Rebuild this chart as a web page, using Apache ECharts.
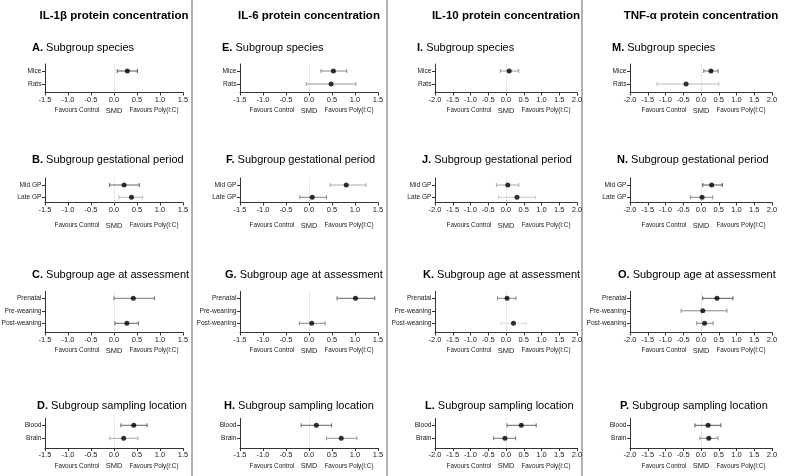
<!DOCTYPE html>
<html><head><meta charset="utf-8">
<script src="https://cdn.jsdelivr.net/npm/echarts@6/dist/echarts.min.js"></script>
<style>html,body{margin:0;padding:0;background:#fff}#c{width:789px;height:476px}</style>
</head><body><div id="c"></div>
<script>
// ---------- DATA ----------
const headers = ['IL-1β protein concentration', 'IL-6 protein concentration', 'IL-10 protein concentration', 'TNF-α protein concentration'];
const letters = ['A','B','C','D','E','F','G','H','I','J','K','L','M','N','O','P'];
const subgroupTitles = ['Subgroup species', 'Subgroup gestational period', 'Subgroup age at assessment', 'Subgroup sampling location'];
const catsSpecies = ['Mice', 'Rats'];
const catsGP = ['Mid GP', 'Late GP'];
const catsAge = ['Prenatal', 'Pre-weaning', 'Post-weaning'];
const catsLoc = ['Blood', 'Brain'];
const xLabelLeft = 'Favours Control';
const xLabelMid = 'SMD';
const xLabelRight = 'Favours Poly(I:C)';
const xRange15 = [-1.5, 1.5];
const xRange20 = [-2.0, 2.0];
const xTickStep = 0.5;

// IL-1β
const A_mean = [0.29, null], A_lo = [0.07, null], A_hi = [0.51, null];
const B_mean = [0.22, 0.38], B_lo = [-0.10, 0.11], B_hi = [0.55, 0.62];
const C_mean = [0.42, null, 0.28], C_lo = [0.00, null, 0.02], C_hi = [0.88, null, 0.53];
const D_mean = [0.43, 0.21], D_lo = [0.15, -0.09], D_hi = [0.72, 0.52];
// IL-6
const E_mean = [0.53, 0.48], E_lo = [0.26, -0.06], E_hi = [0.82, 1.02];
const F_mean = [0.81, 0.07], F_lo = [0.46, -0.20], F_hi = [1.24, 0.38];
const G_mean = [1.01, null, 0.06], G_lo = [0.61, null, -0.21], G_hi = [1.43, null, 0.35];
const H_mean = [0.16, 0.70], H_lo = [-0.17, 0.38], H_hi = [0.49, 1.04];
// IL-10
const I_mean = [0.09, null], I_lo = [-0.16, null], I_hi = [0.36, null];
const J_mean = [0.05, 0.31], J_lo = [-0.27, -0.21], J_hi = [0.36, 0.83];
const K_mean = [0.03, null, 0.21], K_lo = [-0.24, null, -0.14], K_hi = [0.28, null, 0.56];
const L_mean = [0.43, -0.03], L_lo = [0.03, -0.35], L_hi = [0.85, 0.27];
// TNF-α
const M_mean = [0.28, -0.42], M_lo = [0.08, -1.24], M_hi = [0.48, 0.50];
const N_mean = [0.30, 0.03], N_lo = [0.05, -0.30], N_hi = [0.60, 0.33];
const O_mean = [0.45, 0.05, 0.10], O_lo = [0.05, -0.56, -0.12], O_hi = [0.90, 0.73, 0.34];
const P_mean = [0.20, 0.22], P_lo = [-0.17, -0.03], P_hi = [0.56, 0.48];

// ---------- STYLE / LAYOUT ----------
const FONT = '"Liberation Sans", Arial, Helvetica, sans-serif';
const ciShade = {
  A: ['#555', '#555'], B: ['#666', '#bbb'], C: ['#777', '#777', '#666'], D: ['#666', '#aaa'],
  E: ['#888', '#999'], F: ['#aaa', '#888'], G: ['#666', '#888', '#888'], H: ['#666', '#999'],
  I: ['#999', '#999'], J: ['#aaa', '#ccc'], K: ['#888', '#888', '#ddd'], L: ['#666', '#777'],
  M: ['#777', '#bbb'], N: ['#555', '#888'], O: ['#555', '#888', '#888'], P: ['#555', '#888']
};
const colAxisX = [45, 240, 435, 630];
const colWidth = [138, 138, 142, 142];
const colRange = [xRange15, xRange15, xRange20, xRange20];
const separatorsX = [192, 387, 582];
const headerY = 16;
// per row: first category y, spacing, x-axis y, title y, favours y
const rowLayout = [
  { first: 71, step: 13, axis: 92.5, titleY: 47.5, favY: 110.5 },
  { first: 185, step: 12.3, axis: 202.5, titleY: 160, favY: 225.5 },
  { first: 298.3, step: 12.5, axis: 332.5, titleY: 274.5, favY: 350.5 },
  { first: 425.3, step: 13, axis: 448, titleY: 406.3, favY: 466 }
];
const titleLeft = [
  [32, 32, 32, 37], [222, 226, 225, 224], [417, 422, 423, 425], [612, 617, 618, 620]
];
const topPad = 7;

const panelData = {
  A: [catsSpecies, A_mean, A_lo, A_hi], B: [catsGP, B_mean, B_lo, B_hi], C: [catsAge, C_mean, C_lo, C_hi], D: [catsLoc, D_mean, D_lo, D_hi],
  E: [catsSpecies, E_mean, E_lo, E_hi], F: [catsGP, F_mean, F_lo, F_hi], G: [catsAge, G_mean, G_lo, G_hi], H: [catsLoc, H_mean, H_lo, H_hi],
  I: [catsSpecies, I_mean, I_lo, I_hi], J: [catsGP, J_mean, J_lo, J_hi], K: [catsAge, K_mean, K_lo, K_hi], L: [catsLoc, L_mean, L_lo, L_hi],
  M: [catsSpecies, M_mean, M_lo, M_hi], N: [catsGP, N_mean, N_lo, N_hi], O: [catsAge, O_mean, O_lo, O_hi], P: [catsLoc, P_mean, P_lo, P_hi]
};

const grids = [], xAxes = [], yAxes = [], series = [], graphics = [];

for (let c = 0; c < 4; c++) {
  graphics.push({ type: 'text', x: colAxisX[c] + colWidth[c] / 2, y: headerY,
    style: { text: headers[c], fontFamily: FONT, fontSize: 11.5, fontWeight: 'bold', fill: '#000', align: 'center', verticalAlign: 'middle' } });
  for (let r = 0; r < 4; r++) {
    const idx = c * 4 + r;
    const L = letters[idx];
    const [cats, mean, lo, hi] = panelData[L];
    const n = cats.length;
    const rl = rowLayout[r];
    const top = rl.first - topPad;
    const height = rl.axis - top;
    const yMin = 1 - topPad / rl.step;
    const yMax = yMin + height / rl.step;
    const rng = colRange[c];
    grids.push({ left: colAxisX[c], top: top, width: colWidth[c], height: height, containLabel: false, outerBoundsMode: 'none' });
    xAxes.push({
      gridIndex: idx, type: 'value', min: rng[0], max: rng[1], interval: xTickStep,
      axisLine: { show: true, onZero: false, lineStyle: { color: '#333', width: 1 } },
      axisTick: { show: true, length: 3, lineStyle: { color: '#333' } },
      axisLabel: { fontSize: 7.5, fontFamily: FONT, color: '#222', margin: 3, formatter: v => v.toFixed(1) },
      splitLine: { show: false }
    });
    const vals = cats.map((_, i) => i + 1);
    yAxes.push({
      gridIndex: idx, type: 'value', inverse: true, min: yMin, max: yMax,
      axisLine: { show: true, onZero: false, lineStyle: { color: '#333', width: 1 } },
      axisTick: { show: true, length: 3, customValues: vals, lineStyle: { color: '#333' } },
      axisLabel: { show: true, customValues: vals, fontSize: 6.6, fontFamily: FONT, color: '#222', margin: 3.5,
        formatter: v => cats[Math.round(v) - 1] || '' },
      splitLine: { show: false }
    });
    const ciData = [], ptData = [];
    for (let i = 0; i < n; i++) {
      if (mean[i] === null) continue;
      ciData.push([lo[i], hi[i], i + 1]);
      ptData.push([mean[i], i + 1]);
    }
    const shades = ciShade[L];
    series.push({
      type: 'custom', xAxisIndex: idx, yAxisIndex: idx, silent: true, z: 2,
      encode: { x: [0, 1], y: 2 },
      data: ciData,
      renderItem: function (params, api) {
        const y = api.value(2);
        const p1 = api.coord([api.value(0), y]);
        const p2 = api.coord([api.value(1), y]);
        const col = shades[y - 1];
        const st = { stroke: col, lineWidth: 1 };
        return { type: 'group', children: [
          { type: 'line', shape: { x1: p1[0], y1: p1[1], x2: p2[0], y2: p2[1] }, style: st },
          { type: 'line', shape: { x1: p1[0], y1: p1[1] - 2, x2: p1[0], y2: p1[1] + 2 }, style: st },
          { type: 'line', shape: { x1: p2[0], y1: p2[1] - 2, x2: p2[0], y2: p2[1] + 2 }, style: st }
        ] };
      }
    });
    series.push({
      type: 'scatter', xAxisIndex: idx, yAxisIndex: idx, silent: true, z: 3,
      symbol: 'circle', symbolSize: 5, itemStyle: { color: '#000' },
      data: ptData,
      markLine: { silent: true, symbol: ['none', 'none'], label: { show: false }, z: 1,
        lineStyle: { color: '#d5d5d5', type: 'dotted', width: 1 },
        data: [{ xAxis: 0 }] }
    });
    graphics.push({ type: 'text', x: titleLeft[c][r], y: rl.titleY,
      style: { text: '{b|' + L + '.} ' + subgroupTitles[r], fontFamily: FONT, fontSize: 11, fill: '#000', verticalAlign: 'middle', align: 'left',
        rich: { b: { fontWeight: 'bold', fontFamily: FONT, fontSize: 11, fill: '#000' } } } });
    const zeroX = colAxisX[c] + (0 - rng[0]) / (rng[1] - rng[0]) * colWidth[c];
    graphics.push({ type: 'text', x: zeroX - 37, y: rl.favY, style: { text: xLabelLeft, fontFamily: FONT, fontSize: 6.3, fill: '#222', align: 'center', verticalAlign: 'middle' } });
    graphics.push({ type: 'text', x: zeroX, y: rl.favY, style: { text: xLabelMid, fontFamily: FONT, fontSize: 7.5, fill: '#222', align: 'center', verticalAlign: 'middle' } });
    graphics.push({ type: 'text', x: zeroX + 40, y: rl.favY, style: { text: xLabelRight, fontFamily: FONT, fontSize: 6.3, fill: '#222', align: 'center', verticalAlign: 'middle' } });
  }
}
separatorsX.forEach(x => graphics.push({ type: 'line', shape: { x1: x, y1: 0, x2: x, y2: 476 }, style: { stroke: '#999', lineWidth: 1.5 } }));

const chart = echarts.init(document.getElementById('c'), null, { renderer: 'canvas' });
chart.setOption({ animation: false, backgroundColor: '#fff', grid: grids, xAxis: xAxes, yAxis: yAxes, series: series, graphic: graphics });
</script></body></html>
